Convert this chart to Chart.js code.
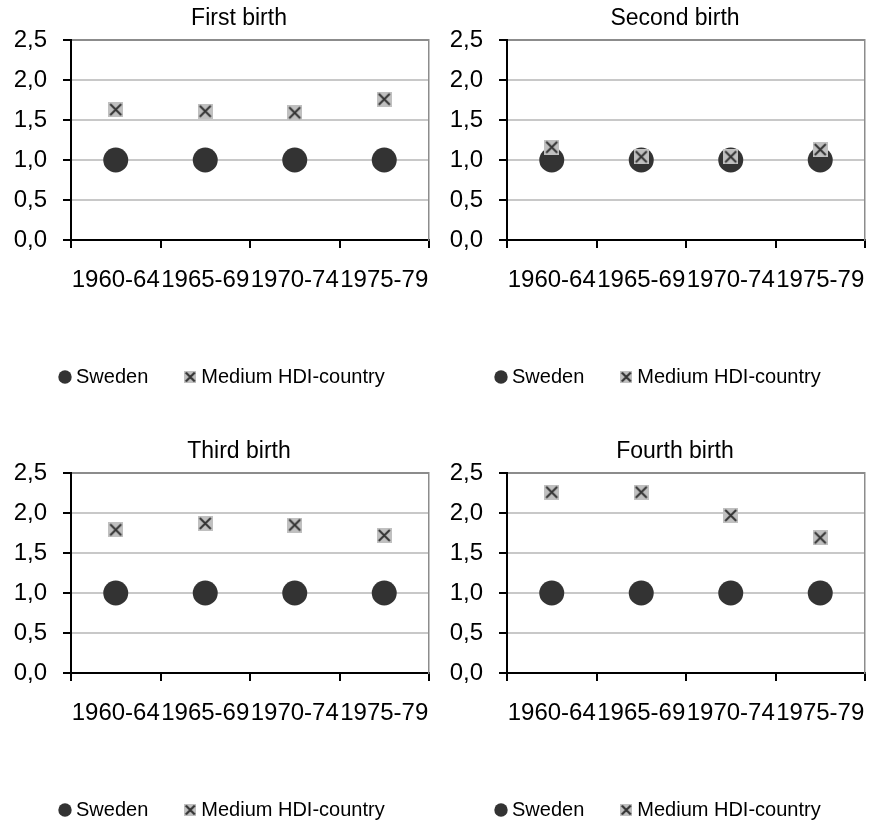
<!DOCTYPE html>
<html>
<head>
<meta charset="utf-8">
<script src="https://cdn.jsdelivr.net/npm/chart.js@4.4.0/dist/chart.umd.min.js"></script>
<style>
  html, body { margin: 0; padding: 0; background: #ffffff; overflow: hidden; width: 875px; height: 823px; }
  #wrap { position: relative; width: 875px; height: 823px; overflow: hidden; }
  canvas { position: absolute; }
</style>
</head>
<body>
<div id="wrap">
  <canvas id="first" width="468" height="397" style="left:0px;top:0px"></canvas>
  <canvas id="second" width="468" height="397" style="left:436px;top:0px"></canvas>
  <canvas id="third" width="468" height="397" style="left:0px;top:433px"></canvas>
  <canvas id="fourth" width="468" height="397" style="left:436px;top:433px"></canvas>
</div>
<script>
// Birth cohorts on the category axis
const categories = ['1960-64', '1965-69', '1970-74', '1975-79'];

// Value axis ticks and their labels (decimal comma)
const yTicks = [0, 0.5, 1, 1.5, 2, 2.5];
const yTickLabels = ['0,0', '0,5', '1,0', '1,5', '2,0', '2,5'];

const panelTitles = ['First birth', 'Second birth', 'Third birth', 'Fourth birth'];
const seriesNames = ['Sweden', 'Medium HDI-country'];

// Sweden is the reference group (1,0) in every panel
const swedenFirst  = [1, 1, 1, 1];
const swedenSecond = [1, 1, 1, 1];
const swedenThird  = [1, 1, 1, 1];
const swedenFourth = [1, 1, 1, 1];

// Medium HDI-country relative risks
const mediumFirst  = [1.63, 1.61, 1.59, 1.76];
const mediumSecond = [1.16, 1.04, 1.04, 1.13];
const mediumThird  = [1.79, 1.87, 1.85, 1.72];
const mediumFourth = [2.26, 2.26, 1.97, 1.69];

const FONT = '"Liberation Sans", Arial, Helvetica, sans-serif';
const DARK = '#333333';
const LIGHT = '#c0c0c0';

// Grey square with a dark diagonal cross, used as the point marker
function crossMarker(size, inset, lw) {
  const c = document.createElement('canvas');
  c.width = size; c.height = size;
  const g = c.getContext('2d');
  g.fillStyle = LIGHT;
  g.fillRect(0, 0, size, size);
  g.strokeStyle = DARK;
  g.lineWidth = lw;
  g.beginPath();
  g.moveTo(inset, inset); g.lineTo(size - inset, size - inset);
  g.moveTo(size - inset, inset); g.lineTo(inset, size - inset);
  g.stroke();
  return c;
}
const pointCross = crossMarker(15, 2, 2);
const legendCross = crossMarker(12, 1.5, 2.2);

// Moves the legend block sideways after the layout has been computed
const legendOffset = {
  id: 'legendOffset',
  afterLayout(chart, args, opts) {
    const lg = chart.legend;
    if (lg) { lg.left += opts.dx; lg.right += opts.dx; }
  }
};

function makeChart(id, title, sweden, medium) {
  return new Chart(document.getElementById(id), {
    type: 'line',
    plugins: [legendOffset],
    data: {
      labels: categories,
      datasets: [
        {
          label: seriesNames[0],
          data: sweden,
          showLine: false,
          pointStyle: 'circle',
          pointRadius: 12.5,
          pointBorderWidth: 0,
          pointBackgroundColor: DARK,
          pointBorderColor: DARK,
          backgroundColor: DARK,
          borderColor: DARK,
          order: 1
        },
        {
          label: seriesNames[1],
          data: medium,
          showLine: false,
          pointStyle: pointCross,
          pointRadius: 7.5,
          backgroundColor: LIGHT,
          borderColor: DARK,
          order: 0
        }
      ]
    },
    options: {
      responsive: false,
      animation: false,
      events: [],
      layout: { padding: { left: 10, right: 0, top: 0, bottom: 0 } },
      plugins: {
        legendOffset: { dx: 13 },
        title: {
          display: true,
          text: title,
          color: '#000000',
          font: { family: FONT, size: 23, weight: 'normal', lineHeight: 1.2 },
          padding: { top: 4.7, bottom: 7.7 }
        },
        legend: {
          display: true,
          position: 'bottom',
          align: 'start',
          labels: {
            usePointStyle: true,
            boxWidth: 2,
            boxHeight: 9.5,
            padding: 41,
            color: '#000000',
            font: { family: FONT, size: 20 },
            sort: (a, b) => a.datasetIndex - b.datasetIndex,
            generateLabels: (chart) => {
              const items = Chart.defaults.plugins.legend.labels.generateLabels(chart);
              items.forEach((it) => {
                if (it.datasetIndex === 1) {
                  it.pointStyle = legendCross;
                } else {
                  it.pointStyle = 'circle';
                  it.lineWidth = 0;
                  it.fillStyle = DARK;
                  it.strokeStyle = DARK;
                }
              });
              return items;
            }
          }
        },
        tooltip: { enabled: false }
      },
      scales: {
        x: {
          type: 'category',
          offset: true,
          grid: { offset: true, drawOnChartArea: false, tickLength: 8, color: '#000000', lineWidth: 2 },
          border: { color: '#000000', width: 2 },
          ticks: {
            autoSkip: false, maxRotation: 0, minRotation: 0, padding: 18,
            color: '#000000', font: { family: FONT, size: 24 }
          },
          afterFit: (s) => { s.height = 86; }
        },
        y: {
          min: 0,
          max: 2.5,
          afterBuildTicks: (s) => { s.ticks = yTicks.map((v) => ({ value: v })); },
          grid: {
            color: (ctx) => {
              const v = ctx.tick ? ctx.tick.value : null;
              if (v === 0) return '#000000';
              if (v === 2.5) return '#8c8c8c';
              return '#c8c8c8';
            },
            lineWidth: 2,
            tickLength: 8,
            tickColor: '#000000'
          },
          border: { color: '#000000', width: 2 },
          ticks: {
            padding: 16,
            color: '#000000',
            font: { family: FONT, size: 24 },
            callback: (v) => yTickLabels[yTicks.indexOf(v)]
          },
          afterFit: (s) => { s.width = 61; }
        },
        y2: {
          position: 'right',
          display: true,
          grid: { display: false },
          ticks: { display: false },
          border: { color: '#8c8c8c', width: 1.5 },
          afterFit: (s) => { s.width = 39; }
        }
      }
    }
  });
}

makeChart('first', panelTitles[0], swedenFirst, mediumFirst);
makeChart('second', panelTitles[1], swedenSecond, mediumSecond);
makeChart('third', panelTitles[2], swedenThird, mediumThird);
makeChart('fourth', panelTitles[3], swedenFourth, mediumFourth);
</script>
</body>
</html>
